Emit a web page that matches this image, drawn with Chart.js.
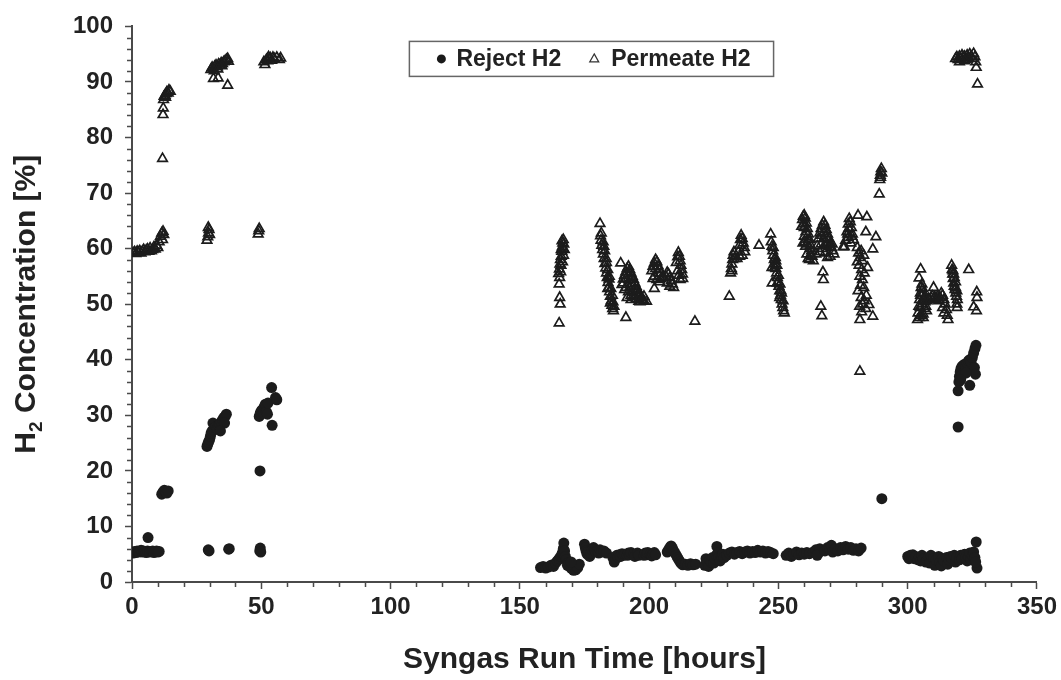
<!DOCTYPE html>
<html>
<head>
<meta charset="utf-8">
<script src="https://cdn.jsdelivr.net/npm/chart.js@4.4.1/dist/chart.umd.min.js"></script>
<style>
  html, body { margin: 0; padding: 0; background: #fff; }
</style>
</head>
<body>
<canvas id="h2Chart" width="1061" height="680"></canvas>
<script>
//Series labels
const seriesLabels = ["Reject H2", "Permeate H2"];

//Reject H2 readings [run time hours, H2 %]
const rejectPoints = [
    [0.5,5.2],[1,5.5],[1.5,5.3],[2,5.6],[2.5,5.4],[3,5.5],[3.5,5.7],[4,5.4],[4.5,5.6],[5,5.5],[5.5,5.3],[6,5.6],
    [6.2,8.0],[6.8,5.4],[7.5,5.5],[8,5.6],[8.5,5.3],[9,5.5],[9.5,5.6],[10,5.4],[10.5,5.5],
    [11.5,15.8],[12,16.2],[12.5,16.5],[13,16.2],[13.5,16.0],[14,16.4],
    [29.5,5.8],[29.8,5.6],
    [29,24.4],[29.3,24.8],[29.6,25.2],[30,25.6],[30.3,26.2],[30.6,26.8],[31,27.2],[31.3,28.6],[31.6,27.4],[32,27.8],
    [32.5,28.0],[33,27.6],[33.5,28.2],[34,28.4],[34.5,28.8],[35,29.2],[35.5,29.6],[36,29.8],[36.5,30.2],[35.8,28.6],[34.2,27.2],
    [37.4,5.9],[37.6,6.0],
    [49.5,20.0],[49.4,5.6],[49.6,6.1],[49.8,5.4],
    [49.2,29.8],[49.6,30.4],[50,30.8],[50.4,31.0],[50.8,30.4],[51.2,31.6],[51.6,32.0],[52,30.6],[52.4,30.2],[52.6,32.2],
    [54,35.0],[54.2,28.2],[55.5,33.2],[56,32.8],
    [158,2.6],[159,2.8],[160,2.5],[161,2.7],[162,3.0],[163,2.8],[163.8,3.4],[164.5,3.8],[165.2,4.2],[165.8,4.6],
    [166.4,5.2],[166.8,6.0],[167,7.0],[167.3,5.6],[167.6,4.6],[168,4.0],[168.6,3.4],[169.2,2.8],[170,2.4],[170.8,2.1],
    [171.6,2.2],[172.4,2.6],[173,3.2],[168.4,3.0],[169.8,3.6],
    [175,6.8],[175.3,6.2],[175.6,5.6],[176,5.0],[176.5,5.4],[177,4.6],[177.5,5.2],[178,5.8],[178.5,6.2],[179,5.8],
    [179.5,5.4],[180,5.6],[180.5,5.2],[181,5.8],[181.5,5.4],[182.5,5.6],[183.5,5.2],
    [186,4.4],[186.5,3.6],[187,4.2],[187.5,4.8],[188,4.5],[188.5,4.9],[189,4.6],[189.5,5.1],[190,4.8],[190.5,5.0],
    [191.5,4.8],[192,5.2],[192.5,4.9],[193,5.3],[194,5.0],[194.5,4.6],[195.5,5.2],[196,4.8],
    [198,4.8],[198.5,5.2],[199,4.9],[199.5,5.3],[200.5,5.0],[201,4.7],[201.5,5.1],[202,5.3],[202.5,4.9],
    [207,5.4],[207.5,5.8],[208,6.2],[208.5,6.5],[209,6.1],[209.5,5.6],[210,5.2],[210.5,4.8],[211,4.4],[211.5,4.0],
    [212,3.6],[212.5,3.3],[213,3.1],[214,3.2],[215,3.0],[216,3.3],[217,3.1],[218,3.2],
    [221.5,3.0],[222,4.2],[222.5,3.5],[223,2.8],[223.5,4.0],[224,3.6],[224.5,4.4],[225,3.4],[225.5,4.2],[226.2,6.4],
    [226,4.8],[226.5,5.2],[227,4.5],[227.5,3.8],[228,4.6],[228.5,5.0],[229,4.4],[230,4.8],
    [231,5.2],[232,5.4],[233,5.0],[234,5.3],[235,5.5],[236,5.1],[237,5.4],[238,5.6],[239,5.2],[240,5.5],
    [241,5.3],[242,5.7],[243,5.4],[244,5.6],[245,5.2],[246,5.5],[247,5.3],[248,5.1],
    [253,4.8],[254,5.2],[255,4.6],[256,5.0],[257,5.4],[258,4.9],[259,5.2],[260,5.0],[261,5.3],[262,5.1],
    [263.5,5.4],[264.5,5.8],[265.5,5.2],[266,6.0],[265,4.8],
    [268,5.6],[269,6.2],[270,5.8],[270.5,6.6],[271,5.4],[272,6.0],[273,5.6],[274,6.2],[275,5.8],[276,6.4],
    [277,5.9],[278,6.2],[279,5.7],[280,6.0],[281,5.6],[282,6.1],
    [290,15.0],
    [300,4.6],[300.5,4.2],[301,4.8],[301.5,4.4],[302,4.9],[302.5,4.2],[303,4.6],[304,4.0],[304.5,4.4],[305,3.8],
    [305.5,4.8],[306,4.2],[307,3.6],[307.5,4.0],[308,4.4],[308.5,3.4],[309,4.8],[310,4.2],[310.5,3.0],[311,4.0],
    [312,4.6],[312.5,3.6],[313,2.9],[313.5,4.2],[314,3.8],[315,4.4],[315.5,3.2],[316,4.0],[316.5,4.6],[317,4.2],
    [318,4.8],[318.5,3.6],[319,4.4],[320,4.0],[320.5,4.8],[321,4.2],[322,5.0],[322.5,4.4],[323,3.8],[323.5,4.6],
    [324,5.2],[324.5,4.0],[325,4.8],[325.5,5.4],[326,4.4],[326.5,7.2],[326.8,2.5],[326.3,3.6],
    [319.5,34.4],[319.8,36.0],[320,37.0],[320.3,37.8],[320.6,38.4],[321,38.8],[321.5,39.0],[322,39.2],[322.5,38.8],
    [323,39.4],[323.5,39.8],[324,40.0],[324.5,39.6],[325,40.4],[325.5,41.2],[326,42.0],[326.4,42.6],[324,35.4],
    [325.8,38.6],[326.2,37.4],[319.5,27.9],[321,37.2],[322.5,37.6],[320.5,36.4]
];

//Permeate H2 readings [run time hours, H2 %]
const permeatePoints = [
    [0.5,59.2],[1,59.4],[1.5,59.1],[2,59.5],[2.5,59.3],[3,59.6],[3.5,59.2],[4,59.5],[4.5,59.8],[5,59.4],
    [5.5,59.7],[6,59.9],[6.5,59.5],[7,60.1],[7.5,59.6],[8,59.8],[8.5,60.3],[9,59.9],[9.5,60.6],
    [10,60.2],[10.5,61.2],[11,62.2],[11.5,62.8],[12,63.1],[11.8,61.6],[12.3,62.5],
    [11.8,76.2],[12,84.1],[12.1,85.3],[12.2,86.8],[12.4,87.4],[12.8,87.6],[13.2,87.9],[13.5,88.2],[14,88.0],
    [14.3,88.5],[14.8,88.3],[13,87.2],
    [29,61.5],[29.3,62.1],[29.6,62.8],[29.8,63.4],[29.5,63.8],[30,62.5],
    [30.5,92.2],[31,92.6],[31.5,92.4],[32,92.8],[32.5,93.0],[33,92.7],[33.5,93.2],[34,93.0],[34.5,93.4],[35,93.3],
    [35.5,93.6],[36,93.8],[36.5,94.0],[37,94.2],[37.3,93.7],[31.8,92.0],[33.2,92.3],[34.8,92.9],
    [31.5,90.6],[33.3,90.7],[37,89.4],
    [48.8,62.6],[49,63.2],[49.2,63.6],
    [51.4,93.1],[51,93.6],[52,94.0],[52.5,93.8],[53,94.1],[53.5,94.3],[54,93.9],[54.5,94.4],[55,94.2],[56,94.4],
    [57,94.0],[57.5,94.3],[52.8,94.5],
    [165,55.5],[165.3,56.3],[165.5,57.2],[165.7,58.0],[166,58.6],[166.2,59.5],[166.4,60.3],[166.6,61.0],[166.8,61.6],
    [167,60.8],[167.2,59.8],[165.4,54.8],[165.2,53.6],[165.4,51.2],[165.6,50.0],[165.2,46.6],[165.8,55.8],[166.5,57.6],
    [166,59.8],[166.3,61.4],[166.7,60.0],[165.9,57.0],[166.9,58.8],
    [181,64.5],[181.2,62.3],[181.4,61.5],[181.7,60.6],[182,59.8],[182.3,59.0],[182.6,58.2],[182.9,57.3],[183.2,56.5],
    [183.5,55.6],[183.8,54.8],[184.1,53.9],[184.4,53.0],[184.7,52.2],[185,51.4],[185.3,50.6],[185.6,49.8],[185.9,49.2],
    [186.2,48.8],[184,52.8],[185,50.2],[182.5,60.4],[183.5,57.5],[184.5,54.5],[186,50.4],
    [181.5,62.8],[182.2,61.2],[182.8,59.6],[183.4,58.2],[184,56.2],[184.6,55.0],[185.2,52.8],[185.8,51.6],[186.4,49.6],
    [189,57.4],[191,47.6],[189.5,53.5],[190,54.5],[190.5,55.2],[191,55.8],[191.5,56.4],[192,56.8],[192.5,56.2],
    [193,55.6],[193.5,55.0],[194,54.4],[194.5,53.8],[195,53.2],[195.5,52.6],[196,52.1],[196.5,51.6],[197,51.2],
    [197.5,50.8],[198,50.6],[199,50.5],[191,53.0],[192,52.2],[193,51.6],[194,52.5],[195,51.0],[196,50.5],[193.5,53.6],
    [192.5,54.4],[190.5,52.6],[191.5,51.2],
    [190,53.8],[191,54.6],[192,55.4],[193,54.8],[194,53.2],[195,52.4],[196,51.6],[197,50.8],[198,51.4],[192.5,53.0],
    [194.5,51.4],[196.5,50.4],[193,50.8],
    [201,56.0],[201.5,56.8],[202,57.4],[202.5,58.0],[203,57.6],[203.5,56.9],[204,56.2],[204.5,55.5],[205,54.8],
    [202,55.0],[203,54.4],[201.5,54.6],[204,54.0],[202,52.8],[202.5,56.4],[203.5,55.6],[204.5,54.6],
    [206.5,55.0],[207,55.7],[207.5,55.4],[208,54.8],[208.5,54.2],[209,53.6],[209.5,53.0],[207,53.8],[208,53.2],
    [210.5,57.5],[211,58.5],[211.3,59.3],[211.7,58.6],[212,57.8],[212.3,57.0],[212.6,56.2],[212.9,55.4],[213,54.6],
    [211,56.0],[211.5,55.2],[212,54.4],[217.7,46.9],
    [231,51.4],[231.5,55.6],[231.8,56.4],[232,57.2],[232.3,58.0],[232.5,58.8],[232.8,59.4],[233,58.2],[232,56.0],
    [234,58.2],[234.5,59.4],[235,60.6],[235.3,61.6],[235.6,62.4],[236,61.8],[236.4,61.0],[236.8,60.2],[237,59.4],
    [235,58.6],[236,58.8],[242.5,60.6],
    [247,62.6],[247.2,61.2],[247.5,60.4],[247.8,59.6],[248.1,58.8],[248.4,58.0],[248.7,57.2],[249,56.4],[249.3,55.6],
    [249.6,54.8],[249.9,54.0],[250.2,53.2],[250.5,52.4],[250.8,51.6],[251.1,50.8],[251.4,50.0],[251.7,49.4],[252,48.8],
    [252.3,48.4],[248.5,56.6],[249.5,53.8],[250.5,51.2],[247.5,56.6],[247.6,53.8],[251,52.4],[249,57.8],
    [248,60.2],[248.8,58.4],[249.4,57.0],[250,55.2],[250.6,53.6],[251.2,52.0],[251.8,50.6],
    [259,64.0],[259.3,65.2],[259.6,65.8],[260,66.0],[260.4,65.5],[260.8,64.6],[261.2,63.6],[261.6,62.6],[262,61.6],
    [262.4,60.6],[262.8,59.6],[263,58.6],[260,62.2],[260.5,60.4],[261,59.0],[261.5,58.2],[259.5,61.0],[262,58.0],
    [263.5,57.8],[260,63.8],[259.8,64.4],[260.6,63.0],[261.4,61.6],[262.2,60.0],[261,60.8],[260.2,61.2],[262.6,58.8],
    [265,60.5],[265.5,61.8],[266,62.8],[266.5,63.6],[267,64.2],[267.5,64.8],[268,64.2],[268.5,63.4],[269,62.6],
    [269.5,61.8],[270,61.0],[270.5,60.2],[271,59.6],[271.5,59.0],[266,59.4],[267,60.0],[268,59.2],[269,58.4],
    [270,58.6],[264.5,59.0],[267.5,61.8],[269,60.8],
    [266.8,62.4],[267.8,63.0],[268.8,61.8],[269.8,60.4],[270.8,60.8],[266.5,60.8],[268.2,60.6],
    [267.2,55.8],[267.4,54.4],[266.4,49.6],[266.8,47.9],
    [276,61.5],[276.5,63.0],[277,64.4],[277.4,65.4],[277.8,64.8],[278.2,63.8],[278.6,62.6],[279,61.6],[277,62.0],
    [278,61.0],[275.5,60.3],[277.2,63.6],[278.4,62.2],[276.8,62.6],
    [280.8,66.0],[284.2,65.7],[283.8,63.0],[287.7,62.1],[275,60.3],[286.5,59.9],
    [280.5,60.2],[281,59.2],[281.5,58.4],[282,59.6],[282.5,57.8],[283,58.8],[281.2,57.0],[282.2,56.2],[283.2,55.6],
    [281.5,55.0],[282.5,54.4],[281.8,53.4],[283,53.0],[280.8,52.4],[282,51.2],[283.2,50.6],[282.6,50.0],[281.4,49.6],
    [283.8,49.2],[282.2,48.6],[281.5,47.2],[286.5,47.8],[284,51.6],[280.5,57.6],[284.5,56.6],[285,49.9],
    [281.5,37.9],
    [289,69.8],[289.2,72.4],[289.4,73.2],[289.6,73.8],[289.8,74.4],[290,73.6],[289.5,72.8],
    [303.8,47.2],[304,48.4],[304.3,49.6],[304.6,50.8],[304.9,52.0],[305.2,53.0],[305.5,53.6],[305.8,52.8],[306.1,52.0],
    [306.4,51.2],[306.7,50.4],[307,49.6],[307.3,48.8],[305,48.0],[306,48.2],[305.5,50.0],[304.5,47.6],[307.5,50.6],
    [308,51.0],[308.5,50.8],[305,51.6],[305.8,50.8],[306.5,49.2],[304.8,49.4],[307,51.2],
    [305,56.3],[304.4,54.7],[310,53.0],[306,47.6],
    [309,51.2],[309.5,51.5],[310,51.0],[310.5,51.3],[311,50.8],[311.5,51.4],[312,50.6],
    [312.5,51.2],[313,52.0],[313.5,51.6],[314,50.8],[314.5,50.0],[315,49.0],[315.3,48.0],[315.6,47.2],[313.5,49.4],[314,48.4],
    [317,57.0],[317.2,56.2],[317.4,55.4],[317.6,54.6],[317.8,53.8],[318,53.2],[318.3,52.6],[318.6,52.0],[318.9,51.4],
    [319.2,50.8],[319,50.0],[319.1,49.4],[318.5,53.0],[317.5,56.0],[318,54.8],[318.5,54.0],[319,52.4],[317.8,55.4],
    [323.6,56.2],[326.7,52.2],[326.8,51.2],[326.6,48.8],[325.5,49.5],
    [318.5,94.2],[319,94.5],[319.5,94.0],[320,94.6],[320.5,94.2],[321,94.8],[321.5,94.4],[322,94.6],[322.5,94.0],
    [323,94.8],[323.5,94.3],[324,95.0],[324.5,94.6],[325,94.2],[325.5,95.1],[326,94.5],[326.3,93.6],[326.5,92.6],
    [327,89.6],[320,93.6],[322,93.8]
];

//Axis settings
const xRange = [0, 350];
const yRange = [0, 100];
const xMajorStep = 50, xMinorStep = 10;
const yMajorStep = 10, yMinorStep = 2;

const fontFamily = "'Liberation Sans', Arial, sans-serif";
const inkColor = "#222";
const axisColor = "#4a4a4a";

//Turn [x, y] pairs into chart points
function toPoints(pairs) {
    return pairs.map(p => ({x: p[0], y: p[1]}));
}

//Minor tick marks (Chart.js has none built in)
const minorTicks = {
    id: "minorTicks",
    afterDraw(chart) {
        const {ctx, chartArea, scales} = chart;
        ctx.save();
        ctx.strokeStyle = axisColor;
        ctx.lineWidth = 1.5;
        ctx.beginPath();
        for (let v = xRange[0]; v <= xRange[1]; v += xMinorStep) {
            if (v % xMajorStep === 0) continue;
            const px = Math.round(scales.x.getPixelForValue(v)) + 0.5;
            ctx.moveTo(px, chartArea.bottom);
            ctx.lineTo(px, chartArea.bottom + 5);
        }
        for (let v = yRange[0]; v <= yRange[1]; v += yMinorStep) {
            if (v % yMajorStep === 0) continue;
            const py = Math.round(scales.y.getPixelForValue(v)) + 0.5;
            ctx.moveTo(chartArea.left, py);
            ctx.lineTo(chartArea.left - 5, py);
        }
        ctx.stroke();
        ctx.restore();
    }
};

//Y title with a subscript 2
const yTitle = {
    id: "yTitle",
    afterDraw(chart) {
        const {ctx, chartArea} = chart;
        const big = "bold 30px " + fontFamily;
        const small = "bold 19px " + fontFamily;
        const parts = [["H", big, 0], ["2", small, 7], [" Concentration [%]", big, 0]];
        ctx.save();
        let total = 0;
        parts.forEach(p => { ctx.font = p[1]; total += ctx.measureText(p[0]).width; });
        ctx.translate(35, (chartArea.top + chartArea.bottom) / 2);
        ctx.rotate(-Math.PI / 2);
        ctx.fillStyle = inkColor;
        ctx.textBaseline = "alphabetic";
        let x = -total / 2;
        parts.forEach(p => {
            ctx.font = p[1];
            ctx.fillText(p[0], x, p[2]);
            x += ctx.measureText(p[0]).width;
        });
        ctx.restore();
    }
};

//Boxed legend inside the plot, top centre
const boxLegend = {
    id: "boxLegend",
    afterDraw(chart) {
        const {ctx, chartArea} = chart;
        ctx.save();
        ctx.font = "bold 23px " + fontFamily;
        const w1 = ctx.measureText(seriesLabels[0]).width;
        const w2 = ctx.measureText(seriesLabels[1]).width;
        const total = 32 + 15 + w1 + 33 + 17 + w2 + 23;
        const left = (chartArea.left + chartArea.right) / 2 - total / 2 + 7;
        const top = chartArea.top + 15;
        const h = 35;
        const cy = top + h / 2;

        ctx.strokeStyle = "#666";
        ctx.lineWidth = 1.5;
        ctx.strokeRect(left, top, total, h);

        //circle marker
        let x = left + 32;
        ctx.fillStyle = "#1a1a1a";
        ctx.beginPath();
        ctx.arc(x, cy, 4.5, 0, Math.PI * 2);
        ctx.fill();
        x += 15;
        ctx.fillStyle = inkColor;
        ctx.textBaseline = "middle";
        ctx.fillText(seriesLabels[0], x, cy + 1);
        x += w1 + 33;

        //triangle marker
        ctx.strokeStyle = "#333";
        ctx.lineWidth = 1.2;
        ctx.beginPath();
        ctx.moveTo(x, cy - 5);
        ctx.lineTo(x + 4.5, cy + 3);
        ctx.lineTo(x - 4.5, cy + 3);
        ctx.closePath();
        ctx.stroke();
        x += 17;
        ctx.fillText(seriesLabels[1], x, cy + 1);
        ctx.restore();
    }
};

const tickFont = {family: fontFamily, size: 24, weight: "bold"};

const ctx = document.getElementById("h2Chart").getContext("2d");
new Chart(ctx, {
    type: "scatter",
    data: {
        datasets: [
            {
                label: seriesLabels[0],
                data: toPoints(rejectPoints),
                pointStyle: "circle",
                pointRadius: 5.5,
                backgroundColor: "#1c1c1c",
                borderColor: "#1c1c1c",
                borderWidth: 0
            },
            {
                label: seriesLabels[1],
                data: toPoints(permeatePoints),
                pointStyle: "triangle",
                pointRadius: 5.5,
                backgroundColor: "rgba(255,255,255,0)",
                borderColor: "#1c1c1c",
                borderWidth: 1.7
            }
        ]
    },
    options: {
        responsive: false,
        animation: false,
        devicePixelRatio: 1,
        layout: {padding: {top: 23, right: 24, left: 0, bottom: 0}},
        plugins: {
            legend: {display: false},
            tooltip: {enabled: false}
        },
        scales: {
            x: {
                type: "linear",
                min: xRange[0],
                max: xRange[1],
                afterFit: s => { s.height = 98; },
                ticks: {stepSize: xMajorStep, font: tickFont, color: inkColor, padding: 4, maxRotation: 0},
                grid: {drawOnChartArea: false, drawTicks: true, tickLength: 7, color: axisColor, tickWidth: 1.5},
                border: {color: axisColor, width: 2},
                title: {
                    display: true,
                    text: "Syngas Run Time [hours]",
                    font: {family: fontFamily, size: 30, weight: "bold"},
                    color: inkColor,
                    padding: {top: 0, bottom: 2}
                }
            },
            y: {
                type: "linear",
                min: yRange[0],
                max: yRange[1],
                afterFit: s => { s.width = 132; },
                ticks: {stepSize: yMajorStep, font: tickFont, color: inkColor, padding: 12},
                grid: {drawOnChartArea: false, drawTicks: true, tickLength: 7, color: axisColor, tickWidth: 1.5},
                border: {color: axisColor, width: 2}
            }
        }
    },
    plugins: [minorTicks, yTitle, boxLegend]
});
</script>
</body>
</html>
